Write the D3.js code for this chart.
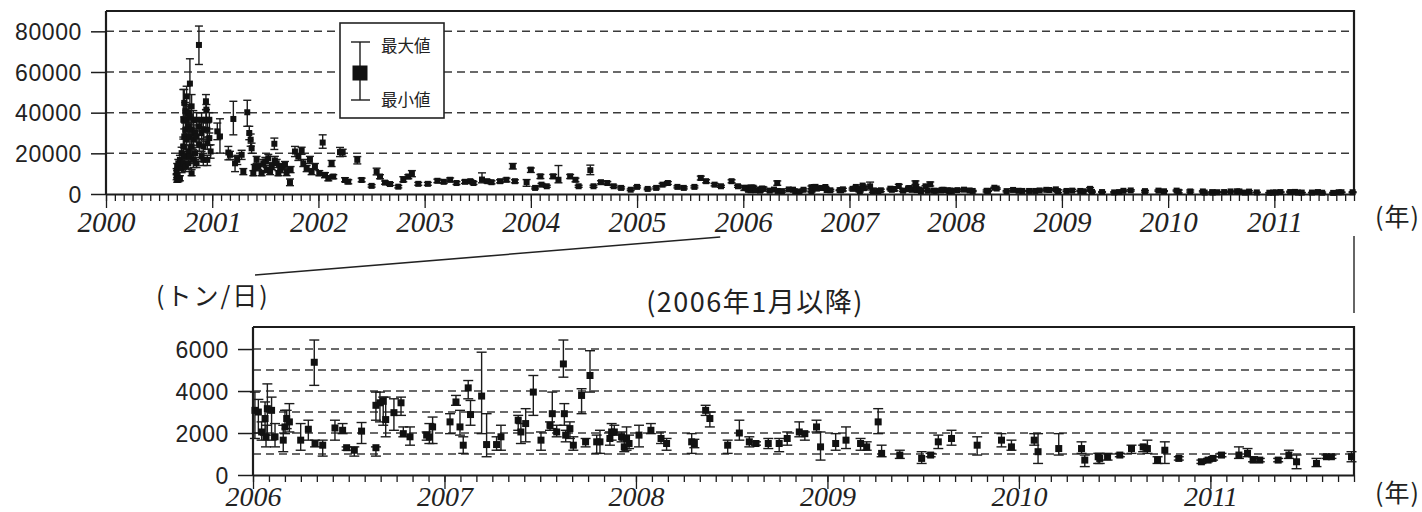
<!DOCTYPE html>
<html><head><meta charset="utf-8">
<script src="https://cdn.jsdelivr.net/npm/d3@7"></script>
<style>body{margin:0;background:#fff}svg{display:block}</style>
</head><body>
<svg id="c" width="1422" height="512"></svg>
<script>
// ---------- DATA (tonnes / day) ----------
const earlyDates = [
2000.665,2000.665,2000.670,2000.670,2000.681,2000.681,2000.696,2000.696,2000.712,2000.712,
2000.728,2000.728,2000.728,2000.737,2000.737,2000.737,2000.747,2000.747,2000.747,2000.759,
2000.759,2000.759,2000.775,2000.775,2000.775,2000.775,2000.790,2000.790,2000.790,2000.790,
2000.806,2000.806,2000.806,2000.806,2000.822,2000.822,2000.822,2000.838,2000.838,2000.853,
2000.853,2000.853,2000.875,2000.878,2000.878,2000.900,2000.900,2000.900,2000.916,2000.916,
2000.916,2000.941,2000.941,2000.945,2000.954,2000.954,2000.954,2000.973,2000.973,2000.985,
2001.048,2001.073,2001.152,2001.167,2001.199,2001.215,2001.236,2001.277,2001.293,2001.330,
2001.349,2001.362,2001.371,2001.387,2001.400,2001.418,2001.434,2001.465,2001.481,2001.500,
2001.513,2001.528,2001.545,2001.560,2001.585,2001.590,2001.607,2001.623,2001.640,2001.654,
2001.685,2001.700,2001.732,2001.738,2001.779,2001.811,2001.842,2001.858,2001.889,2001.920,
2001.936,2001.967,2002.008,2002.040,2002.062,2002.093,2002.124,2002.140,2002.203,2002.228,
2002.250,2002.281,2002.366,2002.407,2002.501,2002.548,2002.580,2002.627,2002.674,2002.752,
2002.799,2002.846,2002.880,2002.940,2003.030,2003.120,2003.180,2003.240,2003.300,2003.380,
2003.430,2003.460,2003.540,2003.590,2003.630,2003.710,2003.770,2003.830,2003.850,2003.960,
2004.000,2004.040,2004.090,2004.100,2004.150,2004.210,2004.260,2004.370,2004.420,2004.450,
2004.560,2004.590,2004.660,2004.720,2004.780,2004.850,2004.940,2005.000,2005.100,2005.180,
2005.240,2005.290,2005.380,2005.440,2005.540,2005.600,2005.650,2005.730,2005.790,2005.890,
2005.950];
const earlyValues = [
11000,8600,6900,13500,7500,15100,7700,16800,12700,20100,
36500,23400,15100,44800,28300,18400,40700,31600,13500,48000,
36500,26700,39800,33300,20900,15100,54300,38200,28300,18400,
43100,31600,23400,10200,36500,26700,16800,30000,20100,36500,
28300,15100,73300,33300,24200,36500,30000,18400,31600,23400,
16800,45600,36500,41500,31600,25000,16800,36500,27500,20900,
30800,28300,20400,19300,36900,15100,16800,19300,11000,40200,
30000,26700,22500,10200,13000,16800,13500,10200,15100,16000,
11900,17600,11000,13500,24700,16500,15100,10200,12000,13500,
14300,10500,5800,11900,20900,18400,21400,15100,12700,16800,
11000,13500,10200,25300,9400,7700,15100,8600,20600,20400,
6900,6100,16800,6900,4000,11000,8600,5600,4900,3600,
6900,8600,10000,5000,5000,6500,6000,7000,5400,6000,
6300,5400,7100,6300,5800,6300,7000,13700,6300,5800,
12000,3000,8700,4600,3800,8700,7000,8700,7000,3800,
11700,3800,5800,5400,3800,3000,2100,3500,2500,3000,
4600,5400,3500,3000,3500,7900,6300,4600,3800,6300,
3800];
const earlyMin = [
9500,7000,5800,11500,6000,13000,6500,14000,10500,17000,
28000,20000,12000,38000,24000,15000,35000,27000,11000,40000,
31000,22000,33000,28000,17000,12500,43000,32000,24000,15000,
36500,27000,19500,9000,31000,22000,13000,26000,17000,32000,
24000,13000,63700,29000,21000,31000,26000,16000,27000,20000,
14000,41500,32000,37000,28000,22000,14000,32000,24000,17600,
26700,20100,16800,17000,29100,11000,14500,17000,9500,33300,
26700,23500,20000,9000,11500,15000,12000,9000,13500,14000,
10500,15500,9500,12000,21900,14500,13000,9000,10500,12000,
12500,9000,4100,10500,18400,16500,19500,13500,11000,15000,
9500,12000,9000,22500,8000,6500,13500,7500,18400,18500,
6000,5000,14800,6000,3400,9400,7500,4800,4200,3000,
6000,7500,8500,4300,4300,5600,5200,6000,4700,5200,
5500,4700,5500,5500,5000,5500,6000,12300,5500,3800,
10600,2500,7600,4000,3300,7600,5500,7600,6000,3300,
9500,3300,5000,4700,3300,2500,1700,3000,2100,2500,
4000,4700,3000,2500,3000,6900,5500,4000,3300,5500,
3300];
const earlyMax = [
12500,10000,8000,15000,9000,17000,9000,19000,14500,23000,
51400,27000,17000,51400,32000,21000,45000,35000,16000,53000,
41000,30000,44000,37000,24000,17000,66500,43000,32000,21000,
48900,35000,27000,12000,41000,30000,19000,34000,23000,40000,
32000,18000,82600,37000,27000,40000,33000,21000,35000,27000,
19000,48900,41500,44000,35000,28000,19000,40000,30000,24200,
34900,37000,23400,21000,45600,18400,19000,21500,12500,46100,
33300,29500,25000,11500,14500,18500,15000,11500,17000,18000,
13000,19500,12500,15000,27500,18500,17000,11500,13500,15000,
16000,12000,7400,13500,23400,20000,23000,17000,14000,18500,
12500,15000,11500,29100,10500,9000,16500,9500,22900,22000,
8000,7000,18400,7800,4600,12700,9500,6400,5600,4200,
8500,9500,11500,5700,5700,7300,6800,7900,6100,6800,
7000,6100,10400,7000,6500,7000,7800,15000,7000,7100,
12800,3500,9600,5200,4300,9600,14000,9600,7800,4300,
14200,4300,6500,6100,4300,3500,2500,4000,2900,3500,
5200,6100,4000,3500,4000,8800,7000,5200,4300,7000,
4300];

const recentDates = [
2006.010,2006.028,2006.045,2006.063,2006.068,2006.075,2006.097,2006.115,2006.158,2006.167,
2006.176,2006.190,2006.249,2006.289,2006.320,2006.324,2006.364,2006.428,2006.468,2006.489,
2006.529,2006.567,2006.642,2006.642,2006.663,2006.680,2006.693,2006.736,2006.773,2006.785,
2006.820,2006.907,2006.921,2006.938,2007.029,2007.060,2007.081,2007.098,2007.124,2007.136,
2007.194,2007.220,2007.272,2007.295,2007.385,2007.399,2007.424,2007.464,2007.504,2007.551,
2007.563,2007.586,2007.621,2007.626,2007.633,2007.655,2007.673,2007.716,2007.737,2007.760,
2007.795,2007.812,2007.864,2007.873,2007.887,2007.925,2007.939,2007.951,2007.964,2008.016,
2008.078,2008.131,2008.160,2008.291,2008.305,2008.364,2008.386,2008.479,2008.540,2008.592,
2008.627,2008.691,2008.748,2008.790,2008.853,2008.882,2008.943,2008.964,2009.043,2009.097,
2009.173,2009.205,2009.265,2009.283,2009.378,2009.492,2009.539,2009.579,2009.648,2009.782,
2009.909,2009.961,2010.080,2010.100,2010.208,2010.327,2010.344,2010.414,2010.422,2010.463,
2010.527,2010.588,2010.649,2010.671,2010.724,2010.762,2010.835,2010.953,2010.988,2011.014,
2011.058,2011.149,2011.194,2011.223,2011.258,2011.354,2011.410,2011.450,2011.554,2011.606,
2011.632,2011.737];
const recentValues = [
3080,3000,2050,2690,1820,3160,3080,1820,1660,2290,
2690,2530,1660,2180,5370,1500,1420,2240,2130,1300,
1180,2090,1300,3320,3440,3510,2640,2970,3440,1970,
1820,1900,1820,2290,2530,3480,2290,1420,4150,2880,
3760,1450,1450,1820,2610,2050,2450,3950,1660,2370,
2920,2050,5290,2920,1900,2210,1420,3790,1580,4740,
1580,1580,1740,2050,2050,1820,1340,1740,1500,1900,
2130,1740,1500,1580,1500,3080,2690,1420,2000,1580,
1500,1500,1500,1740,2050,1970,2290,1340,1500,1660,
1500,1340,2530,1030,950,790,950,1580,1740,1420,
1660,1340,1660,1110,1260,1260,710,870,790,870,
950,1260,1340,1260,710,1180,790,630,710,790,
950,950,1030,710,710,710,950,630,550,870,
870,870];
const recentMin = [
1740,2000,1660,1900,1340,1900,1660,1340,1110,1970,
2210,2050,1180,1660,4270,1340,900,1660,1970,1180,
900,1500,900,2610,2530,2370,1820,2130,2840,1820,
1420,1660,1500,1500,1970,3320,1900,1030,3630,2370,
1970,870,1180,1180,2130,1500,1580,2840,1180,2130,
2210,1820,4660,2370,1580,1740,1180,2920,1340,3950,
1030,1030,1420,1660,1900,1580,1110,1180,1260,1340,
1970,1500,1180,1030,1300,2840,2290,1030,1660,1340,
1420,1260,1110,1420,1820,1660,2050,710,1180,1260,
1180,1180,1970,870,790,550,870,1260,1420,950,
1340,1180,1420,550,950,1030,400,550,550,710,
870,1030,1110,1030,550,550,710,550,630,710,
870,790,870,630,630,630,790,300,400,790,
790,630];
const recentMax = [
3950,3600,2530,3480,2370,4340,3710,2450,2370,3080,
3080,3400,2450,2610,6430,1660,1660,2610,2450,1340,
1340,2500,1340,3950,3950,3710,3710,3630,3710,2290,
2290,2050,2450,2760,2920,3790,3080,1820,4500,3550,
5850,2920,1820,2370,2840,2450,3160,4740,2050,2530,
3950,2370,6430,3400,2130,2530,1820,4110,1740,5920,
1900,2130,2050,2450,2370,2050,1660,2290,1900,2370,
2450,2050,1740,1970,1700,3320,3000,1660,2610,1820,
1580,1740,1740,2050,2530,2050,2610,2050,1970,2290,
1740,1580,3160,1420,1180,1110,1030,1900,2130,1820,
1970,1660,1970,1970,1970,1580,950,1030,1030,1030,
1030,1420,1420,1660,870,1580,870,710,790,870,
1030,1340,1260,870,790,790,1180,950,790,950,
950,1110];

const topYearTicks = [2000,2001,2002,2003,2004,2005,2006,2007,2008,2009,2010,2011];
const topValueTicks = [0,20000,40000,60000,80000];
const topGridValues = [20000,40000,60000,80000];
const lowYearTicks = [2006,2007,2008,2009,2010,2011];
const lowValueTicks = [0,2000,4000,6000];
const lowGridValues = [1000,2000,3000,4000,5000,6000];
const legendLabels = ['最大値','最小値'];
const titleText = '(2006年1月以降)';
const unitText = '(トン/日)';
const yearText = '(年)';

// ---------- DRAWING ----------
const svg = d3.select('#c');
const ink = '#1c1c1c';
const sans = "'Liberation Sans', Arial, sans-serif";
const cjk = "'Noto Sans CJK JP', sans-serif";
const serif = "'Liberation Serif', 'Times New Roman', serif";

function makeRows(d, v, lo, hi) {
  return d.map((t, i) => ({t, v: v[i], lo: lo[i], hi: hi[i]}));
}
const allRows = makeRows(earlyDates, earlyValues, earlyMin, earlyMax)
  .concat(makeRows(recentDates, recentValues, recentMin, recentMax));
const recentRows = makeRows(recentDates, recentValues, recentMin, recentMax);

function panel(o) {
  const x = d3.scaleLinear().domain(o.xDomain).range([o.left, o.right]);
  const y = d3.scaleLinear().domain(o.yDomain).range([o.bottom, o.top]);
  const g = svg.append('g');

  g.selectAll('line.grid').data(o.grid).join('line')
    .attr('x1', o.left).attr('x2', o.right)
    .attr('y1', d => y(d)).attr('y2', d => y(d))
    .attr('stroke', '#3a3a3a').attr('stroke-width', 1.5)
    .attr('stroke-dasharray', '8,5');

  g.append('path')
    .attr('d', `M${o.left},${o.top}H${o.right}V${o.bottom}`)
    .attr('fill', 'none').attr('stroke', ink).attr('stroke-width', 2.2);

  const months = d3.range(0, Math.round((o.xDomain[1] - o.xDomain[0]) * 12) + 1)
    .map(m => o.xDomain[0] + m / 12);
  const gMinor = g.append('g').attr('transform', `translate(0,${o.bottom})`)
    .call(d3.axisBottom(x).tickValues(months).tickSize(7).tickSizeOuter(0).tickFormat(''));
  gMinor.select('.domain').remove();
  gMinor.selectAll('line').attr('stroke', ink).attr('stroke-width', 1.3);

  const gx = g.append('g').attr('transform', `translate(0,${o.bottom})`)
    .call(d3.axisBottom(x).tickValues(o.years).tickSize(14).tickSizeOuter(0).tickFormat(d3.format('d')));
  gx.select('.domain').attr('stroke', ink).attr('stroke-width', 2.2);
  gx.selectAll('line').attr('stroke', ink).attr('stroke-width', 1.3);
  gx.selectAll('text').attr('y', o.xLabelY).attr('dy', 0)
    .attr('font-family', serif).attr('font-style', 'italic')
    .attr('font-size', o.xFont).attr('fill', '#222');

  const gy = g.append('g').attr('transform', `translate(${o.left},0)`)
    .call(d3.axisLeft(y).tickValues(o.yTicks).tickSize(15).tickSizeOuter(0).tickFormat(d3.format('d')));
  gy.select('.domain').attr('stroke', ink).attr('stroke-width', 2.2)
    .attr('d', `M0,${o.top}V${o.bottom}`);
  gy.selectAll('line').attr('stroke', ink).attr('stroke-width', 1.5);
  gy.selectAll('text').attr('x', -24).attr('dy', '0.36em')
    .attr('font-family', sans).attr('font-size', 23).attr('fill', '#222')
    .attr('letter-spacing', 0.6);

  const eb = g.append('g').attr('stroke', ink).attr('stroke-width', 1.4);
  eb.selectAll('line.v').data(o.rows).join('line').attr('class', 'v')
    .attr('x1', d => x(d.t)).attr('x2', d => x(d.t))
    .attr('y1', d => y(d.lo)).attr('y2', d => y(d.hi));
  eb.selectAll('line.hc').data(o.rows).join('line').attr('class', 'hc')
    .attr('x1', d => x(d.t) - o.cap / 2).attr('x2', d => x(d.t) + o.cap / 2)
    .attr('y1', d => y(d.hi)).attr('y2', d => y(d.hi));
  eb.selectAll('line.lc').data(o.rows).join('line').attr('class', 'lc')
    .attr('x1', d => x(d.t) - o.cap / 2).attr('x2', d => x(d.t) + o.cap / 2)
    .attr('y1', d => y(d.lo)).attr('y2', d => y(d.lo));

  g.append('g').selectAll('rect').data(o.rows).join('rect')
    .attr('x', d => x(d.t) - o.ms / 2).attr('y', d => y(d.v) - o.ms / 2)
    .attr('width', o.ms).attr('height', o.ms).attr('fill', '#111');

  return {x, y};
}

const topPanel = panel({
  left: 106, right: 1354, top: 11, bottom: 194,
  xDomain: [2000, 2011.75], yDomain: [0, 90000],
  grid: topGridValues, yTicks: topValueTicks, years: topYearTicks,
  rows: allRows, ms: 6, cap: 8, xLabelY: 38, xFont: 29
});
const lowPanel = panel({
  left: 253, right: 1354, top: 327, bottom: 475,
  xDomain: [2006, 2011.75], yDomain: [0, 7050],
  grid: lowGridValues, yTicks: lowValueTicks, years: lowYearTicks,
  rows: recentRows, ms: 7, cap: 10, xLabelY: 31, xFont: 28
});

// legend
const lg = svg.append('g');
lg.append('rect').attr('x', 340).attr('y', 23).attr('width', 104).attr('height', 95)
  .attr('fill', '#fff').attr('stroke', '#222').attr('stroke-width', 1.6);
lg.append('line').attr('x1', 360).attr('x2', 360).attr('y1', 42).attr('y2', 100)
  .attr('stroke', ink).attr('stroke-width', 1.4);
[42, 100].forEach(yy => lg.append('line').attr('x1', 351).attr('x2', 370)
  .attr('y1', yy).attr('y2', yy).attr('stroke', ink).attr('stroke-width', 1.4));
lg.append('rect').attr('x', 352.5).attr('y', 65.5).attr('width', 15).attr('height', 15).attr('fill', '#111');
lg.selectAll('text').data(legendLabels).join('text')
  .attr('x', 381).attr('y', (d, i) => i === 0 ? 52 : 106)
  .attr('font-family', cjk).attr('font-size', 16.5).attr('fill', '#222').text(d => d);

// connector lines
svg.append('line').attr('x1', 255).attr('y1', 275).attr('x2', topPanel.x(2006) - 23).attr('y2', 237)
  .attr('stroke', '#222').attr('stroke-width', 1.5);
svg.append('line').attr('x1', topPanel.x(2011.75)).attr('x2', topPanel.x(2011.75)).attr('y1', 236).attr('y2', 313)
  .attr('stroke', '#333').attr('stroke-width', 1.5);

// texts
svg.append('text').attr('x', 1375).attr('y', 226).attr('font-family', cjk).attr('font-size', 25)
  .attr('letter-spacing', 1).attr('fill', '#222').text(yearText);
svg.append('text').attr('x', 1375).attr('y', 502).attr('font-family', cjk).attr('font-size', 25)
  .attr('letter-spacing', 1).attr('fill', '#222').text(yearText);
svg.append('text').attr('x', 156).attr('y', 305).attr('font-family', cjk).attr('font-size', 25)
  .attr('letter-spacing', 2).attr('fill', '#222').text(unitText);
svg.append('text').attr('x', 755).attr('y', 312).attr('text-anchor', 'middle')
  .attr('font-family', cjk).attr('font-size', 27).attr('letter-spacing', 1.5)
  .attr('fill', '#222').text(titleText);
</script>
</body></html>
